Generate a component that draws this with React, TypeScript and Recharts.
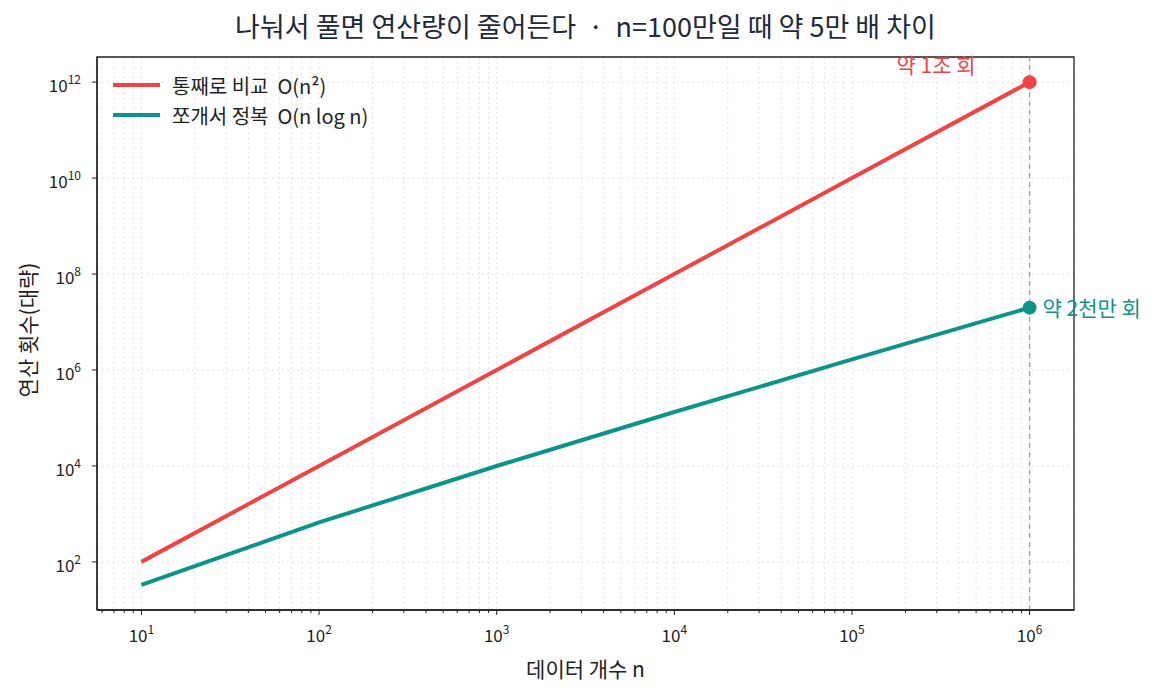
import React from "react";
import {
  LineChart,
  Line,
  XAxis,
  YAxis,
  CartesianGrid,
  ReferenceLine,
  ReferenceDot,
  ReferenceArea,
  Legend,
} from "recharts";

const nValues = [10, 100, 1000, 10000, 100000, 1000000];
const bruteOps = [1e2, 1e4, 1e6, 1e8, 1e10, 1e12];
const divideOps = [33.2, 664, 9966, 132877, 1660964, 19931569];

const seriesNames = ["통째로 비교  O(n²)", "쪼개서 정복  O(n log n)"];
const seriesColors = ["#ef4444", "#0d9488"];

const xMajorTicks = [10, 100, 1000, 10000, 100000, 1000000];
const xMinorTicks = [
  6, 7, 8, 9,
  20, 30, 40, 50, 60, 70, 80, 90,
  200, 300, 400, 500, 600, 700, 800, 900,
  2000, 3000, 4000, 5000, 6000, 7000, 8000, 9000,
  20000, 30000, 40000, 50000, 60000, 70000, 80000, 90000,
  200000, 300000, 400000, 500000, 600000, 700000, 800000, 900000,
];
const yTicks = [1e2, 1e4, 1e6, 1e8, 1e10, 1e12];

const xDomain = [5.623, 1778279];
const yDomain = [9.93, 3.34e12];

const FONT = '"Noto Sans CJK KR", "Noto Sans", sans-serif';
const INK = "#222222";

const data = nValues.map((n, i) => ({
  n,
  brute: bruteOps[i],
  divide: divideOps[i],
}));

const allXTicks = [...xMinorTicks, ...xMajorTicks].sort((a, b) => a - b);

function XTick(props: any) {
  const { x, y, payload } = props;
  const exp = Math.log10(payload.value);
  const major = Math.abs(exp - Math.round(exp)) < 1e-9;
  return (
    <g>
      <line x1={x} x2={x} y1={y} y2={y + (major ? 5 : 3)} stroke={INK} strokeWidth={1} />
      {major && (
        <text x={x} y={y + 32} textAnchor="middle" fontFamily={FONT} fontSize={17} fill={INK}>
          10
          <tspan dy={-8} fontSize={12}>
            {Math.round(exp)}
          </tspan>
        </text>
      )}
    </g>
  );
}

function YTick(props: any) {
  const { x, y, payload } = props;
  const exp = Math.round(Math.log10(payload.value));
  return (
    <g>
      <line x1={x} x2={x - 5} y1={y} y2={y} stroke={INK} strokeWidth={1} />
      <text x={x - 16} y={y + 10} textAnchor="end" fontFamily={FONT} fontSize={17} fill={INK}>
        10
        <tspan dy={-8} fontSize={12}>
          {exp}
        </tspan>
      </text>
    </g>
  );
}

function LegendBox() {
  return (
    <div style={{ fontFamily: FONT, fontSize: 20, color: INK, whiteSpace: "pre" }}>
      {seriesNames.map((name, i) => (
        <div key={name} style={{ display: "flex", alignItems: "center", height: 30 }}>
          <div style={{ width: 47, height: 4, background: seriesColors[i], marginRight: 12 }} />
          <span>{name}</span>
        </div>
      ))}
    </div>
  );
}

const last = nValues.length - 1;

export default function App() {
  return (
    <div style={{ position: "absolute", left: 0, top: 0, width: 1160, height: 693, background: "#fff" }}>
      <div
        style={{
          position: "absolute",
          left: 0,
          width: 1171,
          top: 6,
          textAlign: "center",
          fontFamily: FONT,
          fontSize: 27,
          color: "#1e293b",
          whiteSpace: "pre",
        }}
      >
        나눠서 풀면 연산량이 줄어든다  ·  n=100만일 때 약 5만 배 차이
      </div>
      <div
        style={{
          position: "absolute",
          left: 0,
          width: 1171,
          top: 653,
          textAlign: "center",
          fontFamily: FONT,
          fontSize: 21,
          lineHeight: "30px",
          color: INK,
        }}
      >
        데이터 개수 n
      </div>
      <div
        style={{
          position: "absolute",
          left: 27,
          top: 330,
          transform: "translate(-50%, -50%) rotate(-90deg)",
          whiteSpace: "nowrap",
          fontFamily: FONT,
          fontSize: 21,
          lineHeight: "30px",
          color: INK,
        }}
      >
        연산 횟수(대략)
      </div>
      <LineChart
        width={1160}
        height={693}
        data={data}
        margin={{ top: 57, right: 86, bottom: 43, left: 37 }}
      >
        <CartesianGrid stroke="#dde3ee" strokeDasharray="2 3" />
        <XAxis
          dataKey="n"
          type="number"
          scale="log"
          domain={xDomain}
          allowDataOverflow
          ticks={allXTicks}
          interval={0}
          tickSize={0}
          tickMargin={0}
          tick={<XTick />}
          axisLine={{ stroke: INK, strokeWidth: 1.3 }}
          height={40}
        />
        <YAxis
          type="number"
          scale="log"
          domain={yDomain}
          allowDataOverflow
          ticks={yTicks}
          interval={0}
          tickSize={0}
          tickMargin={0}
          tick={<YTick />}
          axisLine={{ stroke: INK, strokeWidth: 1.3 }}
          width={60}
        />
        <ReferenceArea
          x1={xDomain[0]}
          x2={xDomain[1]}
          y1={yDomain[0]}
          y2={yDomain[1]}
          fill="none"
          stroke={INK}
          strokeWidth={1.3}
          ifOverflow="visible"
        />
        <ReferenceLine
          x={nValues[last]}
          stroke="#94a3b8"
          strokeWidth={1.3}
          strokeDasharray="5 4"
        />
        <Line
          dataKey="brute"
          name={seriesNames[0]}
          stroke={seriesColors[0]}
          strokeWidth={4}
          dot={false}
          isAnimationActive={false}
        />
        <Line
          dataKey="divide"
          name={seriesNames[1]}
          stroke={seriesColors[1]}
          strokeWidth={4}
          dot={false}
          isAnimationActive={false}
        />
        <ReferenceDot
          x={nValues[last]}
          y={bruteOps[last]}
          r={7}
          fill={seriesColors[0]}
          stroke="none"
          label={{
            content: (p: any) => {
              const cx = p.viewBox.x + p.viewBox.width / 2;
              const cy = p.viewBox.y + p.viewBox.height / 2;
              return (
                <text x={cx - 54} y={cy - 9} textAnchor="end" fontFamily={FONT} fontSize={21} fill={seriesColors[0]}>
                  약 1조 회
                </text>
              );
            },
          }}
        />
        <ReferenceDot
          x={nValues[last]}
          y={divideOps[last]}
          r={7}
          fill={seriesColors[1]}
          stroke="none"
          label={{
            content: (p: any) => {
              const cx = p.viewBox.x + p.viewBox.width / 2;
              const cy = p.viewBox.y + p.viewBox.height / 2;
              return (
                <text x={cx + 13} y={cy + 8} textAnchor="start" fontFamily={FONT} fontSize={21} fill={seriesColors[1]}>
                  약 2천만 회
                </text>
              );
            },
          }}
        />
        <Legend
          layout="vertical"
          align="center"
          verticalAlign="middle"
          content={() => <LegendBox />}
          wrapperStyle={{ top: 70, left: 113, width: "auto" }}
        />
      </LineChart>
    </div>
  );
}
